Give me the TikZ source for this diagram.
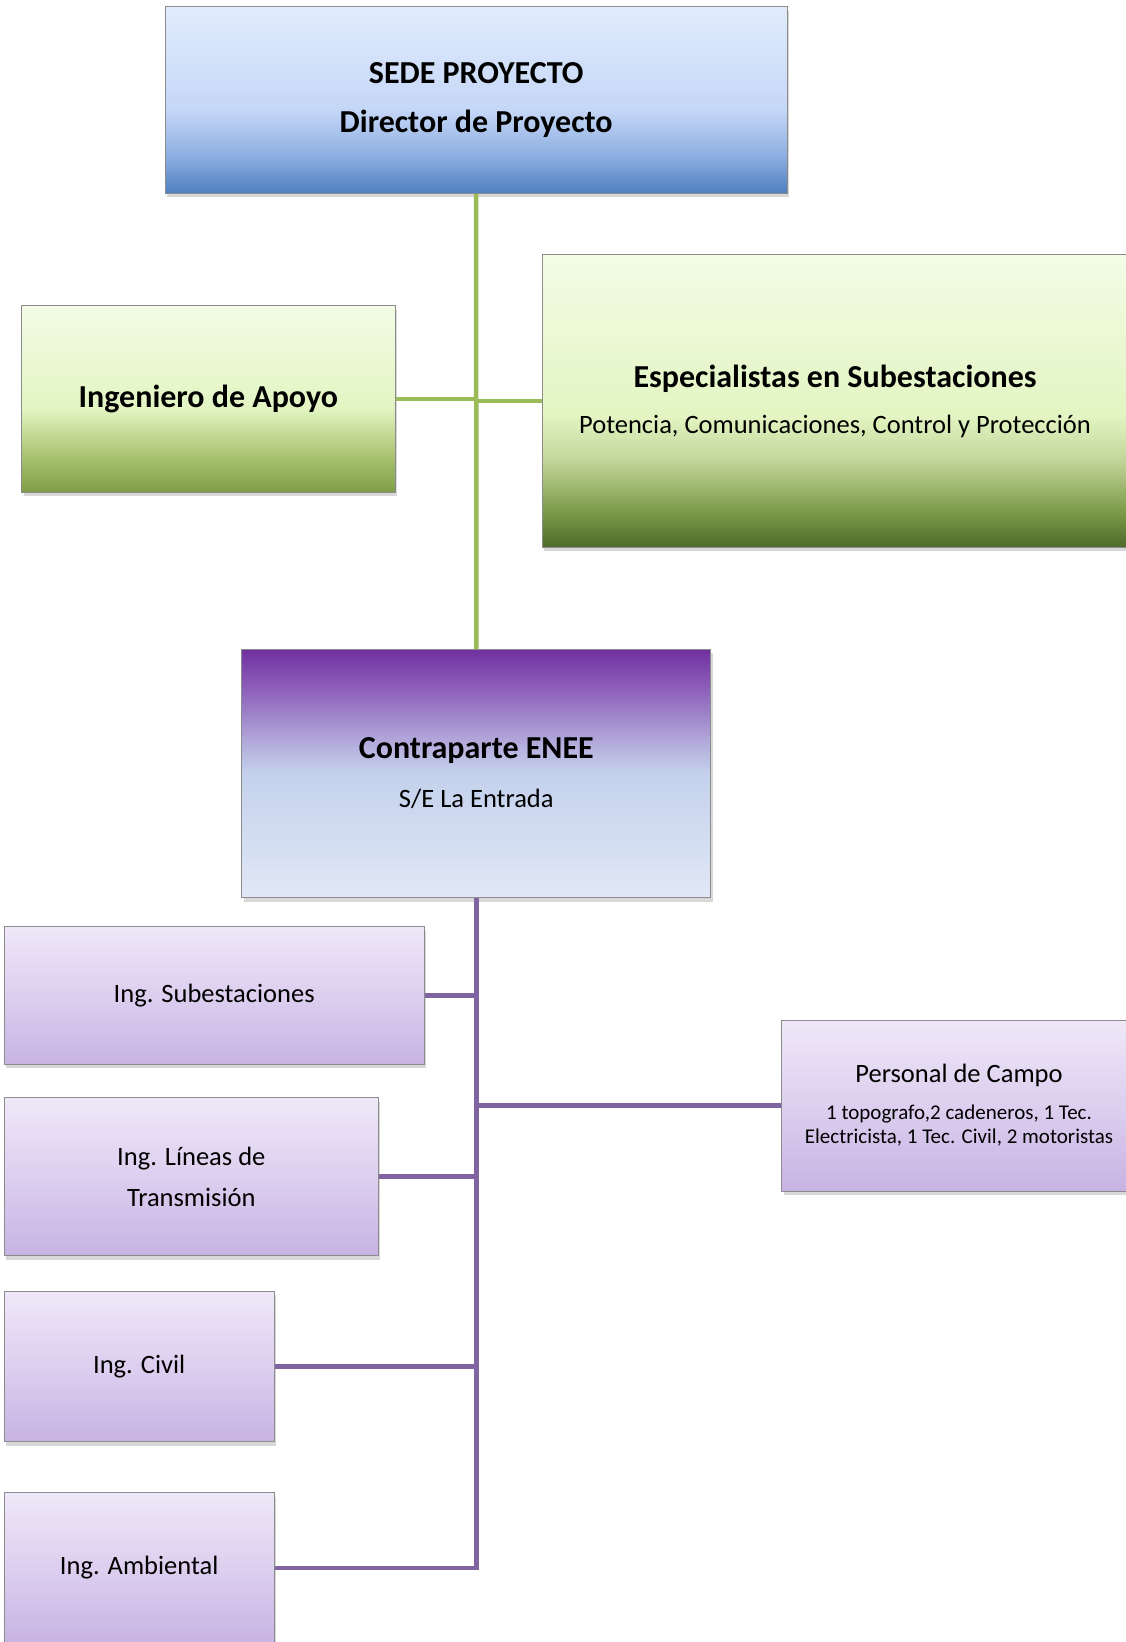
\documentclass[tikz,border=0pt]{standalone}
\usepackage{fontspec}
\setmainfont{Carlito}
\usetikzlibrary{shadows}

\definecolor{boxgray}{HTML}{8C8C8C}
\definecolor{lineverde}{HTML}{9BBB59}
\definecolor{linemorado}{HTML}{8064A2}
% azul (sede)
\definecolor{azulbot}{HTML}{4E7FC0}
\definecolor{azullow}{HTML}{8DAEE0}
\definecolor{azulmid}{HTML}{C5D7F7}
\definecolor{azultop}{HTML}{E1EBFC}
% verde
\definecolor{verdebot}{HTML}{7F9D45}
\definecolor{verdelow}{HTML}{AAC472}
\definecolor{verdemid}{HTML}{E2F5C2}
\definecolor{verdetop}{HTML}{F3FCE6}
\definecolor{oscurobot}{HTML}{4F6A2A}
\definecolor{oscurolow}{HTML}{7C9A48}
\definecolor{oscuromid}{HTML}{C2D69A}
% morado
\definecolor{contrabot}{HTML}{E1E8F6}
\definecolor{contramid}{HTML}{C4D1EC}
\definecolor{contralav}{HTML}{B7B3DF}
\definecolor{contraviol}{HTML}{8C5DB8}
\definecolor{contratop}{HTML}{7030A0}
\definecolor{lilabot}{HTML}{C8B3E3}
\definecolor{lilamid}{HTML}{DCCFEF}
\definecolor{lilatop}{HTML}{EFE8F8}

\pgfdeclareverticalshading{sedeshade}{100bp}{color(0bp)=(azulbot); color(25bp)=(azulbot); color(35bp)=(azullow); color(47.5bp)=(azulmid); color(75bp)=(azultop); color(100bp)=(azultop)}
\pgfdeclareverticalshading{apoyoshade}{100bp}{color(0bp)=(verdebot); color(25bp)=(verdebot); color(35bp)=(verdelow); color(47.5bp)=(verdemid); color(75bp)=(verdetop); color(100bp)=(verdetop)}
\pgfdeclareverticalshading{especshade}{100bp}{color(0bp)=(oscurobot); color(25bp)=(oscurobot); color(31bp)=(oscurolow); color(40bp)=(oscuromid); color(47.5bp)=(verdemid); color(75bp)=(verdetop); color(100bp)=(verdetop)}
\pgfdeclareverticalshading{contrashade}{100bp}{color(0bp)=(contrabot); color(25bp)=(contrabot); color(50bp)=(contramid); color(55bp)=(contralav); color(67.5bp)=(contraviol); color(75bp)=(contratop); color(100bp)=(contratop)}
\pgfdeclareverticalshading{lilashade}{100bp}{color(0bp)=(lilabot); color(25bp)=(lilabot); color(50bp)=(lilamid); color(75bp)=(lilatop); color(100bp)=(lilatop)}

\tikzset{
  caja/.style={rectangle, draw=boxgray, line width=1pt, inner sep=0pt, align=center,
    drop shadow={shadow xshift=2pt, shadow yshift=-4pt, opacity=.3}},
  sedebox/.style={caja, shading=sedeshade, font=\bfseries\fontsize{32}{49}\selectfont},
  apoyobox/.style={caja, shading=apoyoshade, font=\bfseries\fontsize{32}{38}\selectfont},
  especbox/.style={caja, shading=especshade, font=\fontsize{26.5}{46}\selectfont},
  contrabox/.style={caja, shading=contrashade, font=\fontsize{26.5}{49}\selectfont},
  ingbox/.style={caja, shading=lilashade, font=\fontsize{26.5}{41}\selectfont},
  campobox/.style={caja, shading=lilashade, font=\fontsize{21}{24.4}\selectfont},
  lineaverde/.style={draw=lineverde, line width=4.5pt},
  lineamorada/.style={draw=linemorado, line width=4.5pt}
}

\begin{document}
\begin{tikzpicture}[x=1pt,y=-1pt]
  \useasboundingbox[fill=white] (0,0) rectangle (1126,1642);

  % nivel superior
  \node[sedebox, minimum width=621.7pt, minimum height=186.5pt] (sede) at (476.2,100.2)
    {SEDE PROYECTO\\Director de Proyecto};
  \node[apoyobox, minimum width=373.5pt, minimum height=186.6pt] (apoyo) at (208.3,399)
    {Ingeniero de Apoyo};
  \node[especbox, minimum width=586pt, minimum height=292.6pt] (espec) at (835,401)
    {{\bfseries\fontsize{32}{46}\selectfont Especialistas en Subestaciones}\\Potencia, Comunicaciones, Control y Protección};
  \node[contrabox, minimum width=469.3pt, minimum height=248.4pt] (contra) at (476.3,773.5)
    {{\bfseries\fontsize{32}{49}\selectfont Contraparte ENEE}\\S/E La Entrada};

  % personal de la contraparte
  \node[ingbox, minimum width=419.7pt, minimum height=137.6pt] (ingsub) at (214.2,995.5) {Ing. Subestaciones};
  \node[ingbox, minimum width=374pt, minimum height=158pt] (inglin) at (191.3,1176.7) {Ing. Líneas de\\Transmisión};
  \node[ingbox, minimum width=269.7pt, minimum height=150.7pt] (ingciv) at (139.2,1366.4) {Ing. Civil};
  \node[ingbox, minimum width=269.7pt, minimum height=150.7pt] (ingamb) at (139.2,1568) {Ing. Ambiental};
  \node[campobox, minimum width=354.6pt, minimum height=171pt] (campo) at (959,1105.5)
    {{\fontsize{26.5}{24.4}\selectfont Personal de Campo}\\[12pt]1 topografo,2 cadeneros, 1 Tec.\\Electricista, 1 Tec. Civil, 2 motoristas};

  % conectores
  \draw[lineaverde] (sede.south) -- (contra.north);
  \draw[lineaverde] (apoyo.east) -- (apoyo.east -| sede.south);
  \draw[lineaverde] (espec.west) -- (espec.west -| sede.south);
  \draw[lineamorada] (contra.south) |- (ingamb.east);
  \foreach \n in {ingsub,inglin,ingciv}
    \draw[lineamorada] (\n.east) -- (\n.east -| contra.south);
  \draw[lineamorada] (campo.west) -- (campo.west -| contra.south);
\end{tikzpicture}
\end{document}
